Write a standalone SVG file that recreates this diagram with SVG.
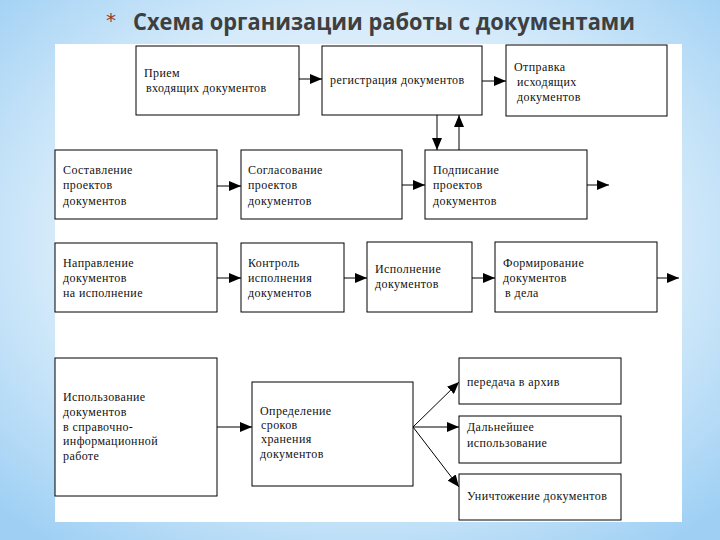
<svg xmlns="http://www.w3.org/2000/svg" width="720" height="540" viewBox="0 0 720 540">
<defs>
<radialGradient id="bg" cx="50%" cy="45%" r="70%">
<stop offset="0" stop-color="#eef7fd"/>
<stop offset="0.6" stop-color="#d6ebfa"/>
<stop offset="1" stop-color="#9fd0f4"/>
</radialGradient>
<marker id="ah" viewBox="0 0 12 10" refX="12" refY="5" markerWidth="12" markerHeight="10" markerUnits="userSpaceOnUse" orient="auto">
<path d="M0,0 L12,5 L0,10 z" fill="#000"/>
</marker>
<style>
.box{fill:#fff;stroke:#000;stroke-width:1}
.t{font-family:"Liberation Serif","Times New Roman",serif;font-size:12px;fill:#111;letter-spacing:0.4px}
.c{stroke:#000;stroke-width:1;fill:none;marker-end:url(#ah)}
</style>
</defs>
<rect width="720" height="540" fill="url(#bg)"/>
<rect x="55" y="44" width="627" height="478" fill="#fff"/>
<text x="106" y="27" font-family="'DejaVu Sans',sans-serif" font-size="20" fill="#9a3b2b">*</text>
<text x="133" y="30" font-family="'Open Sans','DejaVu Sans',sans-serif" font-weight="bold" font-size="23" fill="#3f3f3f" textLength="502" lengthAdjust="spacingAndGlyphs">Схема организации работы с документами</text>

<g id="connectors">
<line class="c" x1="298" y1="79" x2="322" y2="79"/>
<line class="c" x1="482" y1="81" x2="506" y2="81"/>
<line class="c" x1="437" y1="115" x2="437" y2="150"/>
<line class="c" x1="459" y1="150" x2="459" y2="115"/>
<line class="c" x1="217" y1="186" x2="241" y2="186"/>
<line class="c" x1="402" y1="185" x2="425" y2="185"/>
<line class="c" x1="587" y1="185" x2="609" y2="185"/>
<line class="c" x1="217" y1="278" x2="241" y2="278"/>
<line class="c" x1="344" y1="278" x2="367" y2="278"/>
<line class="c" x1="472" y1="278" x2="495" y2="278"/>
<line class="c" x1="657" y1="278" x2="679" y2="278"/>
<line class="c" x1="217" y1="427" x2="252" y2="427"/>
<line class="c" x1="413" y1="427" x2="459" y2="382"/>
<line class="c" x1="413" y1="427" x2="459" y2="427"/>
<line class="c" x1="413" y1="427" x2="459" y2="487"/>
</g>

<g id="n-priem"><rect class="box" x="136" y="46" width="163" height="69"/>
<text class="t" x="144" y="77">Прием</text><text class="t" x="146" y="92">входящих документов</text></g>
<g id="n-registr"><rect class="box" x="322" y="46" width="160" height="69"/>
<text class="t" x="330" y="84">регистрация документов</text></g>
<g id="n-otpravka"><rect class="box" x="506" y="45" width="161" height="71"/>
<text class="t" x="514" y="71">Отправка</text><text class="t" x="517" y="86">исходящих</text><text class="t" x="517" y="101">документов</text></g>

<g id="n-sostav"><rect class="box" x="55" y="150" width="162" height="69"/>
<text class="t" x="63" y="174">Составление</text><text class="t" x="63" y="189">проектов</text><text class="t" x="63" y="205">документов</text></g>
<g id="n-soglas"><rect class="box" x="241" y="150" width="161" height="69"/>
<text class="t" x="248" y="174">Согласование</text><text class="t" x="248" y="189">проектов</text><text class="t" x="248" y="205">документов</text></g>
<g id="n-podpis"><rect class="box" x="425" y="150" width="162" height="69"/>
<text class="t" x="433" y="174">Подписание</text><text class="t" x="433" y="189">проектов</text><text class="t" x="433" y="205">документов</text></g>

<g id="n-napr"><rect class="box" x="55" y="243" width="162" height="69"/>
<text class="t" x="63" y="267">Направление</text><text class="t" x="63" y="282">документов</text><text class="t" x="63" y="297">на исполнение</text></g>
<g id="n-kontrol"><rect class="box" x="241" y="243" width="103" height="69"/>
<text class="t" x="248" y="267">Контроль</text><text class="t" x="248" y="282">исполнения</text><text class="t" x="248" y="297">документов</text></g>
<g id="n-ispoln"><rect class="box" x="367" y="242" width="105" height="70"/>
<text class="t" x="375" y="273">Исполнение</text><text class="t" x="375" y="288">документов</text></g>
<g id="n-form"><rect class="box" x="495" y="242" width="162" height="70"/>
<text class="t" x="503" y="267">Формирование</text><text class="t" x="503" y="282">документов</text><text class="t" x="505" y="297">в дела</text></g>

<g id="n-ispolz"><rect class="box" x="55" y="358" width="162" height="138"/>
<text class="t" x="63" y="401">Использование</text><text class="t" x="63" y="416">документов</text><text class="t" x="63" y="431">в справочно-</text><text class="t" x="63" y="445">информационной</text><text class="t" x="63" y="460">работе</text></g>
<g id="n-opred"><rect class="box" x="252" y="382" width="161" height="104"/>
<text class="t" x="260" y="415">Определение</text><text class="t" x="261" y="429">сроков</text><text class="t" x="261" y="443">хранения</text><text class="t" x="260" y="458">документов</text></g>

<g id="n-arhiv"><rect class="box" x="459" y="358" width="162" height="46"/>
<text class="t" x="467" y="386">передача в архив</text></g>
<g id="n-dalnei"><rect class="box" x="459" y="416" width="162" height="47"/>
<text class="t" x="467" y="431">Дальнейшее</text><text class="t" x="467" y="447">использование</text></g>
<g id="n-unichto"><rect class="box" x="459" y="474" width="162" height="46"/>
<text class="t" x="467" y="500">Уничтожение документов</text></g>
</svg>
